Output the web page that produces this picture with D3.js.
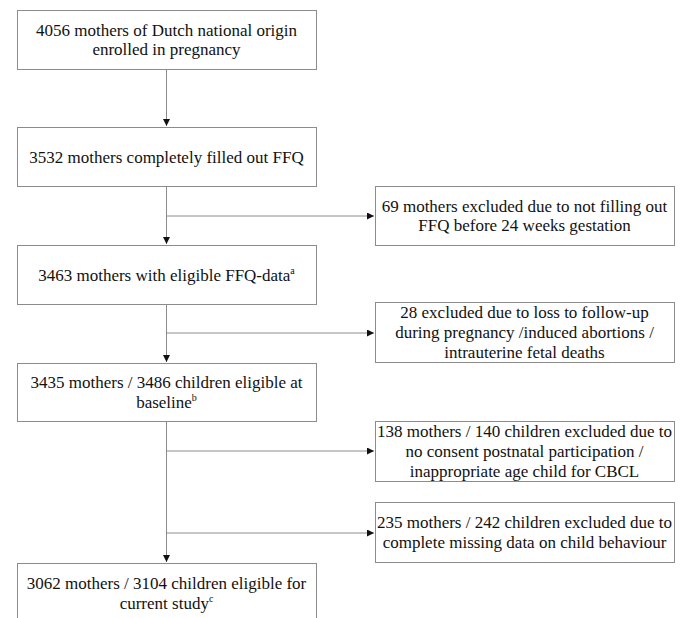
<!DOCTYPE html>
<html>
<head>
<meta charset="utf-8">
<script src="https://cdn.jsdelivr.net/npm/d3@7"></script>
<style>
  body { margin: 0; background: #fff; }
  text, tspan { font-family: "Liberation Serif", serif; }
</style>
</head>
<body>
<div id="chart"></div>
<script>
var svgWidth = 686;
var svgHeight = 618;

// flow steps (main column), "|" = line break, "^x" = superscript
var mainSteps = [
  "4056 mothers of Dutch national origin|enrolled in pregnancy",
  "3532 mothers completely filled out FFQ",
  "3463 mothers with eligible FFQ-data^a",
  "3435 mothers / 3486 children eligible at|baseline^b",
  "3062 mothers / 3104 children eligible for|current study^c"
];

// exclusions (side column)
var exclusions = [
  "69 mothers excluded due to not filling out|FFQ before 24 weeks gestation",
  "28 excluded due to loss to follow-up|during pregnancy /induced abortions /|intrauterine fetal deaths",
  "138 mothers / 140 children excluded due to|no consent postnatal participation /|inappropriate age child for CBCL",
  "235 mothers / 242 children excluded due to|complete missing data on child behaviour"
];

// layout
var mainX = [17, 316];
var sideX = [375, 674];
var mainY = [[10, 69], [127, 186], [245, 304], [363, 421], [563, 642]];
var sideY = [[186, 245], [302, 362], [421, 481], [502, 562]];
var branchY = [216, 333, 451, 533];
var lineH = 19.7;

var svg = d3.select("#chart")
  .append("svg")
  .attr("width", svgWidth)
  .attr("height", svgHeight);

var defs = svg.append("defs");
defs.append("marker")
  .attr("id", "arrow")
  .attr("viewBox", "0 0 10 10")
  .attr("refX", 10)
  .attr("refY", 5)
  .attr("markerUnits", "userSpaceOnUse")
  .attr("markerWidth", 7)
  .attr("markerHeight", 7)
  .attr("orient", "auto")
  .append("path")
  .attr("d", "M0,0 L10,5 L0,10 Z")
  .attr("fill", "#111");

var lineColor = "#8c8c8c";
var cx = (mainX[0] + mainX[1]) / 2;

// one <text> per line so nothing depends on tspan inheritance
function writeLabel(g, label, x0, x1, y0, y1) {
  var lines = label.split("|");
  var midY = (y0 + y1) / 2;
  lines.forEach(function(line, i) {
    var y = midY + (i - (lines.length - 1) / 2) * lineH + 6;
    var parts = line.split("^");
    var t = g.append("text")
      .attr("x", (x0 + x1) / 2)
      .attr("y", y)
      .attr("text-anchor", "middle")
      .attr("font-family", "Liberation Serif")
      .attr("font-size", 17)
      .style("font-family", "Liberation Serif")
      .style("font-size", "17px")
      .style("fill", "#111");
    t.append("tspan")
      .style("font-family", "Liberation Serif")
      .text(parts[0]);
    if (parts.length > 1) {
      t.append("tspan")
        .style("font-family", "Liberation Serif")
        .style("font-size", "10px")
        .attr("dy", -7)
        .text(parts[1]);
    }
  });
}

// vertical connectors between main steps
for (var i = 0; i < mainSteps.length - 1; i++) {
  svg.append("line")
    .attr("x1", cx).attr("x2", cx)
    .attr("y1", mainY[i][1]).attr("y2", mainY[i + 1][0] - 1)
    .attr("stroke", lineColor)
    .attr("stroke-width", 1)
    .attr("marker-end", "url(#arrow)");
}

// horizontal branches to exclusion boxes
branchY.forEach(function(y) {
  svg.append("line")
    .attr("x1", cx).attr("x2", sideX[0] - 1)
    .attr("y1", y).attr("y2", y)
    .attr("stroke", lineColor)
    .attr("stroke-width", 1)
    .attr("marker-end", "url(#arrow)");
});

// main boxes
mainSteps.forEach(function(label, i) {
  var g = svg.append("g");
  g.append("rect")
    .attr("x", mainX[0] + 0.5)
    .attr("y", mainY[i][0] + 0.5)
    .attr("width", mainX[1] - mainX[0])
    .attr("height", mainY[i][1] - mainY[i][0])
    .attr("fill", "#fff")
    .attr("stroke", lineColor);
  writeLabel(g, label, mainX[0], mainX[1], mainY[i][0], i === 4 ? 623 : mainY[i][1]);
});

// exclusion boxes
exclusions.forEach(function(label, i) {
  var g = svg.append("g");
  g.append("rect")
    .attr("x", sideX[0] + 0.5)
    .attr("y", sideY[i][0] + 0.5)
    .attr("width", sideX[1] - sideX[0])
    .attr("height", sideY[i][1] - sideY[i][0])
    .attr("fill", "#fff")
    .attr("stroke", lineColor);
  writeLabel(g, label, sideX[0], sideX[1], sideY[i][0], sideY[i][1]);
});
</script>
</body>
</html>
